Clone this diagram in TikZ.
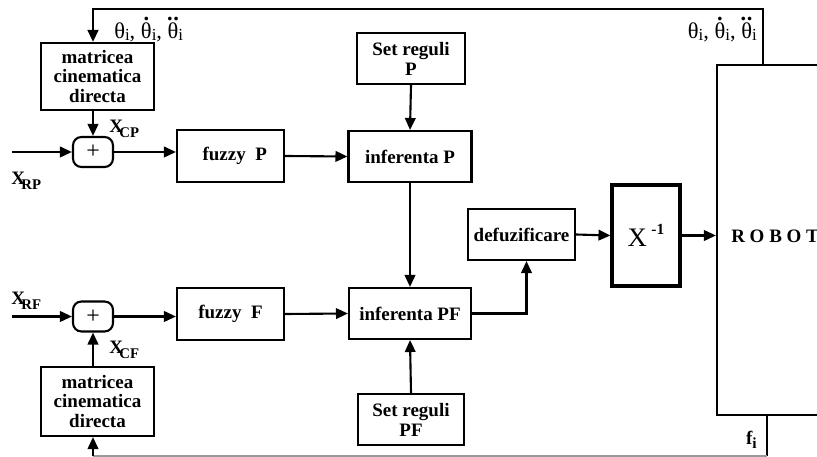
\documentclass[tikz,border=0pt]{standalone}
\usepackage{fontspec}
\setmainfont{Liberation Serif}
\usetikzlibrary{arrows.meta}

% theta with one / two dots above
\newcommand{\thd}{\leavevmode\hbox{\ooalign{θ\cr\hidewidth\raisebox{0.8em}{\bfseries.}\hidewidth\cr}}}
\newcommand{\thdd}{\leavevmode\hbox{\ooalign{θ\cr\hidewidth\raisebox{0.8em}{\bfseries.\kern0.5pt.}\hidewidth\cr}}}
\newcommand{\thsub}{\raisebox{-2pt}{\fontsize{12}{12}\selectfont i}}
\newcommand{\xsig}[1]{X\kern-2.5pt\raisebox{-3.5pt}{\fontsize{10.5}{10.5}\selectfont #1}}

\begin{document}
\begin{tikzpicture}[
                x=0.025cm, y=-0.025cm,
                font=\fontsize{13.5}{14.2}\selectfont\bfseries,
                box/.style={rectangle, draw=black, line width=1.5pt, inner sep=0pt, align=center},
                sumnode/.style={rectangle, draw=black, line width=1.5pt, rounded corners=6pt, inner sep=0pt, minimum width=1cm, minimum height=0.75cm, font=\fontsize{17}{17}\selectfont\mdseries},
                arr/.style={-{Triangle[length=8.5pt,width=7.5pt]}, line width=1.5pt},
                lbl/.style={inner sep=0pt},
            ]
            \useasboundingbox (0,0) rectangle (817,457);
            % blocks
            \node[box, minimum width=2.825cm, minimum height=1.675cm] (matP) at (97.5,76.5) {matricea\\cinematica\\directa};
            \node[sumnode] (sumP) at (93,152) {+};
            \node[box, minimum width=2.675cm, minimum height=1.3cm] (fuzP) at (230.5,156) {\hspace{6pt}fuzzy~~P};
            \node[box, minimum width=2.7cm, minimum height=1.275cm] (setP) at (411,58.5) {Set reguli\\P};
            \node[box, minimum width=3.075cm, minimum height=1.275cm] (infP) at (410,156.5) {inferenta P};
            \node[box, minimum width=3.05cm, minimum height=1.275cm] (infPF) at (410,313.5) {inferenta PF};
            \node[box, minimum width=2.65cm, minimum height=1.275cm] (setPF) at (411,419.5) {Set reguli\\PF};
            \node[box, minimum width=2.675cm, minimum height=1.275cm] (defuz) at (521.5,234.5) {defuzificare};
            \node[box, line width=2.2pt, minimum width=1.7cm, minimum height=2.525cm] (xinv) at (646,235.5) {\fontsize{19}{19}\selectfont\mdseries X\,\raisebox{8pt}{\fontsize{11}{11}\selectfont\bfseries -1}};
            \node[box, minimum width=4.575cm, minimum height=8.75cm] (robot) at (808.5,240) {};
            \node[lbl, anchor=west] (robtxt) at (731,236) {R O B O T};
            \node[sumnode] (sumF) at (93,316.5) {+};
            \node[box, minimum width=2.675cm, minimum height=1.3cm] (fuzF) at (230.5,314) {fuzzy~~F};
            \node[box, minimum width=2.825cm, minimum height=1.725cm] (matF) at (97.5,401.5) {matricea\\cinematica\\directa};
            % signal labels
            \node[lbl, anchor=west, font=\fontsize{16}{16}\selectfont] (thL) at (114,32) {θ\thsub, \thd\thsub, \thdd\thsub};
            \node[lbl, anchor=east, font=\fontsize{16}{16}\selectfont] (thR) at (757,32) {θ\thsub, \thd\thsub, \thdd\thsub};
            \node[lbl, anchor=west] (xcp) at (109,129) {\xsig{CP}};
            \node[lbl, anchor=west] (xrp) at (11,181) {\xsig{RP}};
            \node[lbl, anchor=west] (xrf) at (11,301) {\xsig{RF}};
            \node[lbl, anchor=west] (xcf) at (109,350) {\xsig{CF}};
            \node[lbl, anchor=east] (fi) at (757,440) {f\raisebox{-3pt}{\fontsize{11}{11}\selectfont i}};
            % free ends
            \coordinate (inP) at (12,152);
            \coordinate (inF) at (12,316.5);
            \coordinate (ftop) at (763,65);
            \coordinate (fbot) at (767,415);
            \coordinate (fend) at (767,456);
            \coordinate (fcorner) at (sumF.south |- fend);
            % connectors
            \draw[arr, line width=1.9pt] (ftop) -- ++(0,-56) -| (sumP.north |- matP.north);
            \draw[arr] (sumP.north |- matP.south) -- (sumP.north);
            \draw[arr] (inP) -- (sumP.west);
            \draw[arr] (sumP.east) -- (sumP.east -| fuzP.west);
            \draw[arr] (fuzP.east) -- (infP.west);
            \draw[arr] (setP.south) -- (infP.north);
            \draw[arr] (infP.south) -- (infPF.north);
            \draw[arr] (inF) -- (sumF.west);
            \draw[arr] (sumF.east) -- (sumF.east -| fuzF.west);
            \draw[arr] (fuzF.east) -- (infPF.west);
            \draw[arr] (setPF.north) -- (infPF.south);
            \draw[arr] (infPF.east) -| ([xshift=0.125cm]defuz.south);
            \draw[arr] (defuz.east) -- (xinv.west);
            \draw[arr] (xinv.east) -- (xinv.east -| robot.west);
            \draw[arr] (sumF.south |- matF.north) -- (sumF.south);
            \draw[line width=1.2pt] (fbot) -- (fend);
            \draw[line width=1pt, black!40] (fend) -- (fcorner);
            \draw[arr] (fcorner) -- (fcorner |- matF.south);
        \end{tikzpicture}
\end{document}
